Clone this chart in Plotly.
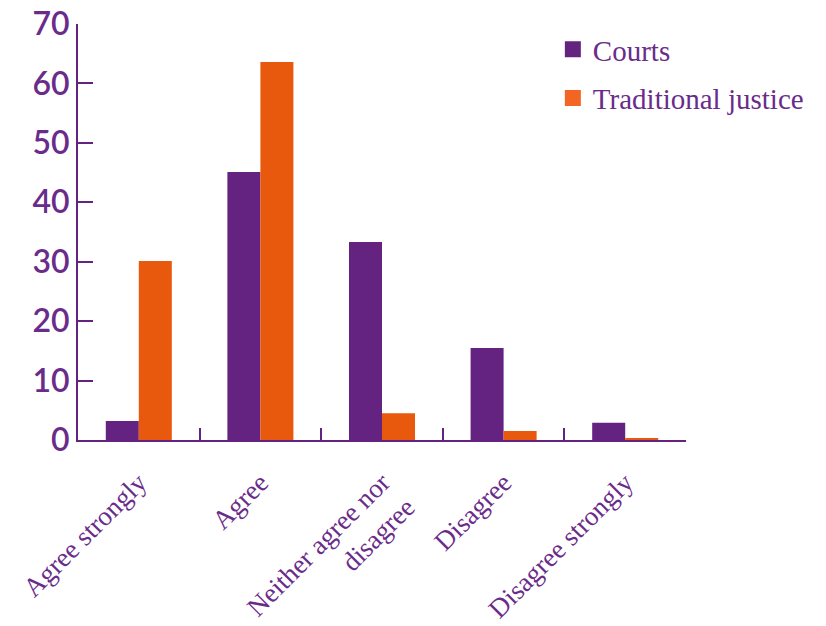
import plotly.graph_objects as go

# Survey responses (% of respondents)
categories = ["Agree strongly", "Agree", "Neither agree nor<br>disagree", "Disagree", "Disagree strongly"]
courts = [3.2, 45.1, 33.3, 15.5, 2.9]
traditional = [30.1, 63.6, 4.5, 1.5, 0.3]
y_ticks = [0, 10, 20, 30, 40, 50, 60, 70]

PURPLE = "#652381"
ORANGE = "#E8590E"
TEXT = "#6A2C8A"

fig = go.Figure()
fig.add_trace(go.Bar(x=categories, y=courts, name="Courts", marker_color=PURPLE,
                     marker_line_width=0, showlegend=False))
fig.add_trace(go.Bar(x=categories, y=traditional, name="Traditional justice", marker_color=ORANGE,
                     marker_line_width=0, showlegend=False))

# Legend entries with larger square swatches
for name, color, grp in [("Courts", PURPLE, "a"), ("Traditional justice", "#F26522", "b")]:
    fig.add_trace(go.Scatter(x=[None], y=[None], mode="markers", name=name, legendgroup=grp,
                             marker=dict(symbol="square", size=18, color=color)))

fig.update_layout(
    width=826, height=626,
    margin=dict(l=78, r=140, t=24, b=186, autoexpand=False),
    paper_bgcolor="white", plot_bgcolor="white",
    barmode="group", bargap=0.457, bargroupgap=0,
    legend=dict(x=0.781, y=1.0, xanchor="left", yanchor="top",
                font=dict(family="Liberation Serif", size=29, color=TEXT),
                tracegroupgap=8, itemwidth=30, bgcolor="rgba(0,0,0,0)"),
    showlegend=True,
)
fig.update_xaxes(
    type="category", tickson="boundaries", ticks="inside", ticklen=12, tickwidth=2,
    tickcolor=PURPLE, showline=True, linecolor=PURPLE, linewidth=2,
    tickangle=-45, ticklabelstandoff=14,
    tickfont=dict(family="Liberation Serif", size=27, color=TEXT),
    showgrid=False, zeroline=False, automargin=False,
)
fig.update_yaxes(
    range=[0, 70], tickvals=y_ticks, ticks="inside", ticklen=15, tickwidth=2,
    tickcolor=PURPLE, showline=True, linecolor=PURPLE, linewidth=2,
    tickfont=dict(family="Lato", size=32, color=TEXT, weight=600),
    showgrid=False, zeroline=False, automargin=False,
)

fig.write_html("out.html")
